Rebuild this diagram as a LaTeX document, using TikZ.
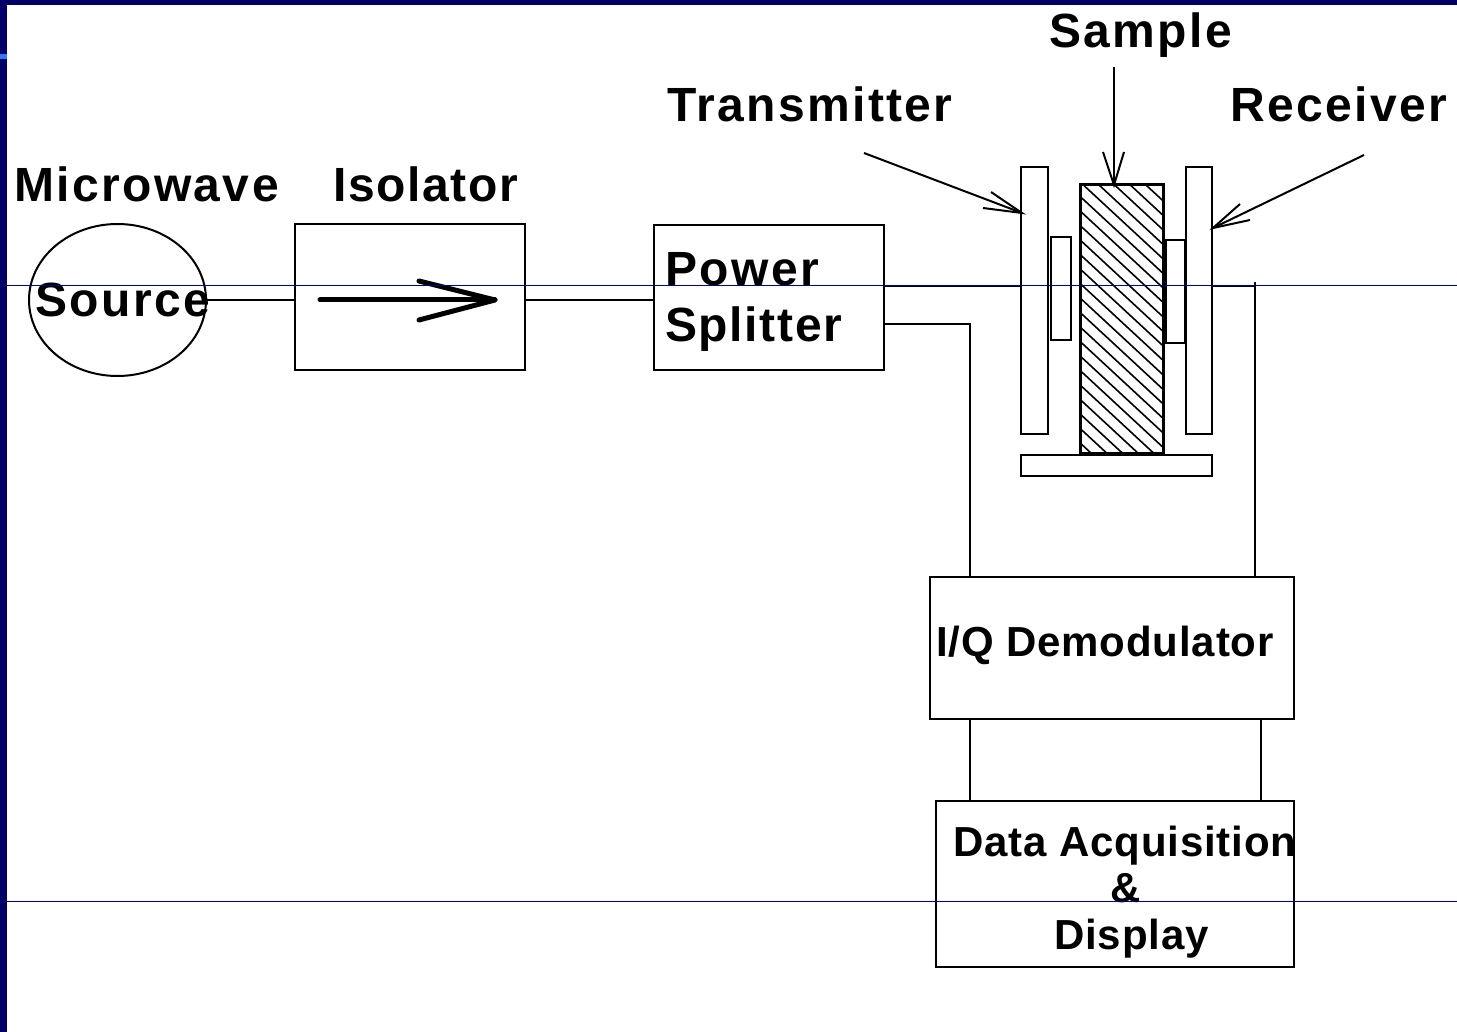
\documentclass[tikz,border=0pt]{standalone}
\usepackage{fontspec}
\usetikzlibrary{shapes.geometric}
\setmainfont{Liberation Sans}
\newfontfamily\lblfont[LetterSpace=5]{Liberation Sans Bold}
\newfontfamily\lblfontc[LetterSpace=3.5]{Liberation Sans Bold}
\newfontfamily\lblfontb[LetterSpace=2]{Liberation Sans Bold}
\definecolor{frameblue}{HTML}{000066}
\definecolor{tabblue}{HTML}{3377FF}
\definecolor{ruleblue}{HTML}{000088}
\tikzset{
  boxshape/.style={draw=black,line width=2pt,fill=white,inner sep=0pt,minimum width=#1},
  wire/.style={draw=black,line width=2pt},
  pointer/.style={draw=black,line width=2pt},
  biglabel/.style={anchor=base west,inner sep=0pt,font=\fontsize{48}{52}\selectfont\lblfont},
  tightbiglabel/.style={anchor=base west,inner sep=0pt,font=\fontsize{48}{52}\selectfont\lblfontc},
  smalllabel/.style={anchor=base west,inner sep=0pt,font=\fontsize{42}{46}\selectfont\lblfontb},
  ruleline/.style={draw=ruleblue,line width=1pt},
}
\begin{document}
\begin{tikzpicture}[x=1pt,y=-1pt]
\useasboundingbox (0,0) rectangle (1457,1032);
\fill[white] (0,0) rectangle (1457,1032);
% frame
\fill[frameblue] (0,0) rectangle (1457,5);
\fill[frameblue] (0,0) rectangle (7,1032);
\fill[tabblue] (0,54) rectangle (7,59);
% shapes
\node[boxshape=177pt,ellipse,minimum height=152pt] (src) at (117.5,300) {};
\node[boxshape=230pt,minimum height=146pt] (iso) at (410,297) {};
\node[boxshape=230pt,minimum height=145pt] (split) at (769,297.5) {};
\node[boxshape=27pt,minimum height=267pt] (tx) at (1034.5,300.5) {};
\node[boxshape=20pt,minimum height=103pt] (txs) at (1061,288.5) {};
\node[boxshape=82pt,minimum height=268pt] (sample) at (1122,319) {};
\begin{scope}
\clip (1081,185) rectangle (1163,453);
\foreach \k in {-6,...,18}
  \draw[line width=1.6pt] (1081,197.3+14.5*\k) -- (1163,197.3+14.5*\k+76);
\end{scope}
\draw[line width=2pt] (sample.south west) rectangle (sample.north east);
\node[boxshape=19pt,minimum height=103pt] (rxs) at (1175.5,291.5) {};
\node[boxshape=26pt,minimum height=267pt] (rx) at (1199,300.5) {};
\node[boxshape=191pt,minimum height=21pt] (base) at (1116.5,465.5) {};
\node[boxshape=364pt,minimum height=142pt] (iq) at (1112,648) {};
\node[boxshape=358pt,minimum height=166pt] (daq) at (1115,884) {};
% named ports
\coordinate (srcOut) at (206,300);
\coordinate (isoIn) at (iso.west |- srcOut);
\coordinate (isoOut) at (iso.east |- srcOut);
\coordinate (splitIn) at (split.west |- srcOut);
\coordinate (splitA) at (884,286);
\coordinate (txIn) at (tx.west |- splitA);
\coordinate (splitB) at (884,324);
\coordinate (iqI) at (970,577);
\coordinate (bendI) at (iqI |- splitB);
\coordinate (rxOut) at (rx.east |- splitA);
\coordinate (iqQ) at (1255,577);
\coordinate (bendQ) at (1255,286);
\coordinate (bendTop) at (1255,282);
\coordinate (iqBL) at (970,719);
\coordinate (daqL) at (970,801);
\coordinate (iqBR) at (1261,719);
\coordinate (daqR) at (1261,801);
% connectors
\draw[wire] (srcOut) -- (isoIn);
\draw[wire] (isoOut) -- (splitIn);
\draw[wire] (splitA) -- (txIn);
\draw[wire] (splitB) -- (bendI) -- (iqI);
\draw[wire] (rxOut) -- (bendQ);
\draw[wire] (bendTop) -- (iqQ);
\draw[wire] (iqBL) -- (daqL);
\draw[wire] (iqBR) -- (daqR);
% isolator arrow
\coordinate (isoA) at (320,300);
\coordinate (isoT) at (495,300);
\coordinate (isoH1) at (419,281);
\coordinate (isoH2) at (419,320);
\draw[line width=5pt,line cap=round,line join=round] (isoA) -- (isoT);
\draw[line width=5pt,line cap=round,line join=round] (isoH1) -- (isoT) -- (isoH2);
% label pointers
\coordinate (pTxA) at (864,153); \coordinate (pTxT) at (1022,213);
\coordinate (pTx1) at (991,192); \coordinate (pTx2) at (983,208);
\draw[pointer] (pTxA) -- (pTxT); \draw[pointer] (pTx1) -- (pTxT) -- (pTx2);
\coordinate (pSaA) at (1114,67); \coordinate (pSaT) at (1114,185);
\coordinate (pSa1) at (1103,152); \coordinate (pSa2) at (1124,152);
\draw[pointer] (pSaA) -- (pSaT); \draw[pointer] (pSa1) -- (pSaT) -- (pSa2);
\coordinate (pRxA) at (1364,155); \coordinate (pRxT) at (1213,228);
\coordinate (pRx1) at (1240,204); \coordinate (pRx2) at (1250,220);
\draw[pointer] (pRxA) -- (pRxT); \draw[pointer] (pRx1) -- (pRxT) -- (pRx2);
% labels
\node[biglabel] (tMicro) at (14,202) {Microwave};
\node[tightbiglabel] (tIso) at (333,202) {Isolator};
\node[biglabel] (tSrc) at (35,317) {Source};
\node[biglabel] (tPow) at (665,286) {Power};
\node[tightbiglabel] (tSpl) at (665,342) {Splitter};
\node[biglabel] (tTx) at (667,122) {Transmitter};
\node[biglabel] (tSa) at (1049,48) {Sample};
\node[biglabel] (tRx) at (1230,122) {Receiver};
\node[smalllabel] (tIq) at (936,656) {I/Q Demodulator};
\node[smalllabel] (tDaq) at (953,856) {Data Acquisition};
\node[smalllabel] (tAmp) at (1110,902) {\&};
\node[smalllabel] (tDis) at (1054,949.5) {Display};
% blue rules
\coordinate (r1a) at (7,285.5); \coordinate (r1b) at (1457,285.5);
\coordinate (r2a) at (7,901.5); \coordinate (r2b) at (1457,901.5);
\draw[ruleline] (r1a) -- (r1b);
\draw[ruleline] (r2a) -- (r2b);
\end{tikzpicture}
\end{document}
